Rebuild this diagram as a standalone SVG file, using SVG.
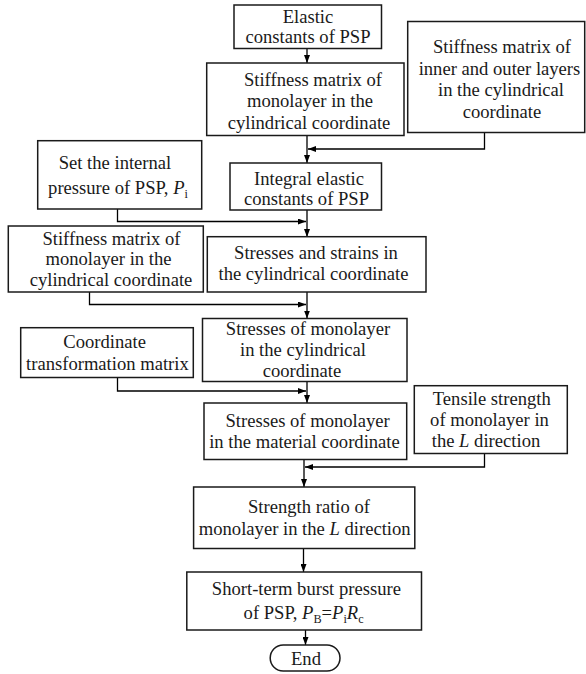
<svg xmlns="http://www.w3.org/2000/svg" width="586" height="674" viewBox="0 0 586 674">
<defs>
<marker id="ah" markerWidth="8" markerHeight="6" refX="8" refY="3" orient="auto" markerUnits="userSpaceOnUse">
<path d="M0,0 L8,3 L0,6 z" fill="#000"/>
</marker>
<style>
.box{fill:#fff;stroke:#1a1a1a;stroke-width:1.5}
.t{font-family:'Liberation Serif','DejaVu Serif',serif;font-size:19.8px;fill:#1a1a1a;text-anchor:middle}
.i{font-style:italic}
.s{font-size:13px}
.c{fill:none;stroke:#000;stroke-width:1.3;marker-end:url(#ah)}
</style>
</defs>
<rect width="586" height="674" fill="#fff"/>
<g id="connectors">
<path class="c" d="M307,48.5 V63"/>
<path class="c" d="M484.5,132.5 V149 H308"/>
<path class="c" d="M307,135.5 V163"/>
<path class="c" d="M117.5,209 V221.5 H306"/>
<path class="c" d="M307,210 V237"/>
<path class="c" d="M89.5,292 V304.5 H306"/>
<path class="c" d="M307,292 V318.5"/>
<path class="c" d="M117.5,377.5 V391 H306"/>
<path class="c" d="M307,381.5 V403"/>
<path class="c" d="M484.5,453.5 V467 H305"/>
<path class="c" d="M304,459.5 V487"/>
<path class="c" d="M303.5,548.5 V572"/>
<path class="c" d="M305.5,630 V645"/>
</g>
<g id="n1"><rect class="box" x="234" y="5" width="147.5" height="43.5"/>
<text class="t" transform="scale(0.94,1)" x="327.66" y="23">Elastic</text><text class="t" transform="scale(0.94,1)" x="327.66" y="43.5">constants of PSP</text></g>
<g id="n2"><rect class="box" x="206.7" y="63" width="197.3" height="72.5"/>
<text class="t" transform="scale(0.94,1)" x="332.98" y="86">Stiffness matrix of</text><text class="t" transform="scale(0.94,1)" x="329.79" y="107.5">monolayer in the</text><text class="t" transform="scale(0.94,1)" x="328.72" y="129">cylindrical coordinate</text></g>
<g id="nR"><rect class="box" x="407.7" y="21.5" width="177" height="111"/>
<text class="t" transform="scale(0.94,1)" x="534.04" y="53.5">Stiffness matrix of</text><text class="t" transform="scale(0.94,1)" x="531.38" y="75">inner and outer layers</text><text class="t" transform="scale(0.94,1)" x="532.98" y="96.5">in the cylindrical</text><text class="t" transform="scale(0.94,1)" x="534.04" y="118">coordinate</text></g>
<g id="n3"><rect class="box" x="37.7" y="140.7" width="164" height="68.3"/>
<text class="t" transform="scale(0.94,1)" x="122.34" y="169">Set the internal</text><text class="t" transform="scale(0.94,1)" x="125.53" y="194.5">pressure of PSP, <tspan class="i">P</tspan><tspan class="s" dy="4">i</tspan></text></g>
<g id="n4"><rect class="box" x="230" y="163" width="151.5" height="47"/>
<text class="t" transform="scale(0.94,1)" x="328.72" y="185">Integral elastic</text><text class="t" transform="scale(0.94,1)" x="326.06" y="205.5">constants of PSP</text></g>
<g id="n5"><rect class="box" x="8.3" y="226" width="195" height="66"/>
<text class="t" transform="scale(0.94,1)" x="118.62" y="245">Stiffness matrix of</text><text class="t" transform="scale(0.94,1)" x="115.43" y="265.5">monolayer in the</text><text class="t" transform="scale(0.94,1)" x="118.09" y="286">cylindrical coordinate</text></g>
<g id="n6"><rect class="box" x="207.3" y="236.7" width="218.7" height="55.3"/>
<text class="t" transform="scale(0.94,1)" x="336.17" y="259">Stresses and strains in</text><text class="t" transform="scale(0.94,1)" x="333.51" y="280.5">the cylindrical coordinate</text></g>
<g id="n7"><rect class="box" x="202.5" y="318.5" width="204.5" height="63"/>
<text class="t" transform="scale(0.94,1)" x="327.66" y="335.5">Stresses of monolayer</text><text class="t" transform="scale(0.94,1)" x="322.34" y="356.5">in the cylindrical</text><text class="t" transform="scale(0.94,1)" x="321.28" y="377">coordinate</text></g>
<g id="n8"><rect class="box" x="20.7" y="327.7" width="172.6" height="49.8"/>
<text class="t" transform="scale(0.94,1)" x="111.28" y="348.5">Coordinate</text><text class="t" transform="scale(0.94,1)" x="114.26" y="370">transformation matrix</text></g>
<g id="n9"><rect class="box" x="204" y="403" width="202.7" height="56.5"/>
<text class="t" transform="scale(0.94,1)" x="327.23" y="427">Stresses of monolayer</text><text class="t" transform="scale(0.94,1)" x="323.94" y="448.5">in the material coordinate</text></g>
<g id="n10"><rect class="box" x="414.3" y="385.7" width="153" height="67.8"/>
<text class="t" transform="scale(0.94,1)" x="523.19" y="405">Tensile strength</text><text class="t" transform="scale(0.94,1)" x="520.74" y="426">of monolayer in</text><text class="t" transform="scale(0.94,1)" x="517.02" y="447">the <tspan class="i">L</tspan> direction</text></g>
<g id="n11"><rect class="box" x="193.6" y="487" width="221.2" height="61.5"/>
<text class="t" transform="scale(0.94,1)" x="328.72" y="513">Strength ratio of</text><text class="t" transform="scale(0.94,1)" x="324.15" y="535.5">monolayer in the <tspan class="i">L</tspan> direction</text></g>
<g id="n12"><rect class="box" x="186.8" y="572" width="234.7" height="58"/>
<text class="t" transform="scale(0.94,1)" x="325.96" y="595">Short-term burst pressure</text><text class="t" transform="scale(0.94,1)" x="322.98" y="619.5">of PSP, <tspan class="i">P</tspan><tspan class="s" dy="4">B</tspan><tspan dy="-4">=</tspan><tspan class="i">P</tspan><tspan class="s" dy="4">i</tspan><tspan class="i" dy="-4">R</tspan><tspan class="s" dy="4">c</tspan></text></g>
<g id="end"><rect class="box" x="270.2" y="645" width="69.8" height="26" rx="13" ry="13"/>
<text class="t" transform="scale(0.94,1)" x="325.53" y="665">End</text></g>
</svg>
